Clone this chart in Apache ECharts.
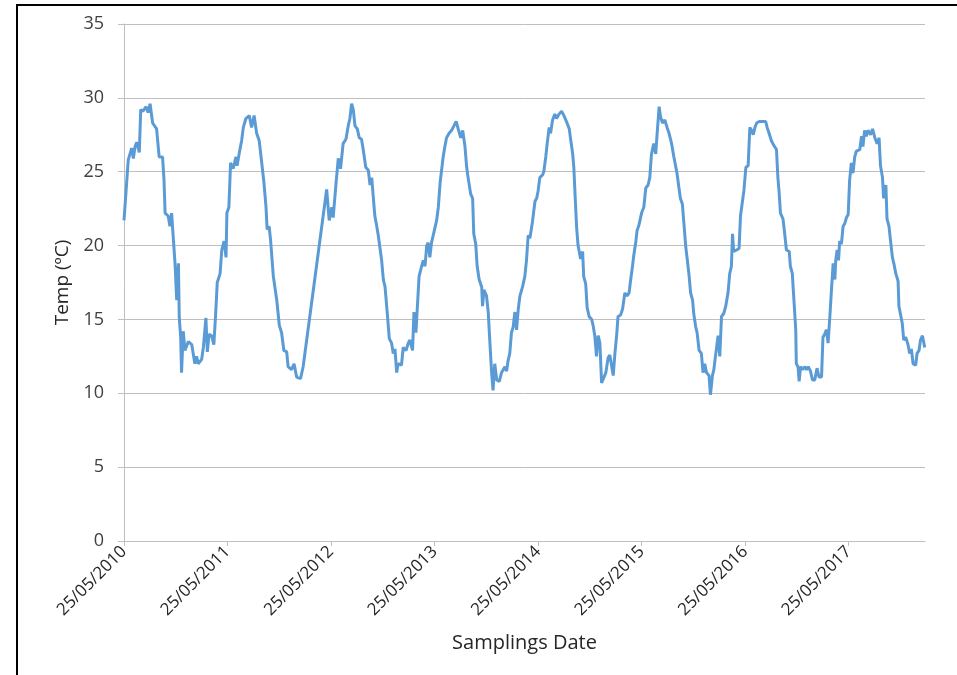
<!DOCTYPE html>
<html>
<head>
<meta charset="utf-8">
<script src="https://cdn.jsdelivr.net/npm/echarts@6/dist/echarts.min.js"></script>
<style>
html,body{margin:0;padding:0;background:#fff;}
#chart{width:957px;height:675px;}
</style>
</head>
<body>
<div id="chart"></div>
<script>
// Days since the first sampling (25/05/2010)
var sampleDay = [0,15,21,27,33,39,45,50,54,59,67,78,85,92,101,115,124,136,141,145,156,162,168,174,180,186,192,195,200,203,209,215,227,239,244,250,256,262,274,280,289,294,300,309,317,324,329,339,345,353,360,363,370,376,385,395,399,407,415,421,430,442,450,459,468,477,486,494,501,505,512,517,527,539,548,556,564,574,579,591,600,609,623,632,715,724,733,738,748,756,764,773,783,791,797,803,809,815,823,830,838,844,853,862,868,874,879,885,891,897,903,909,915,921,929,936,944,950,956,962,967,979,985,995,1003,1009,1018,1023,1030,1034,1041,1050,1056,1062,1068,1073,1079,1085,1091,1097,1103,1109,1115,1126,1132,1138,1147,1156,1164,1172,1179,1188,1195,1203,1209,1214,1223,1230,1234,1241,1246,1253,1262,1265,1270,1279,1285,1291,1297,1302,1308,1315,1324,1332,1338,1344,1350,1355,1361,1367,1373,1379,1385,1391,1397,1406,1414,1420,1426,1432,1441,1450,1456,1461,1467,1477,1481,1488,1493,1500,1505,1512,1520,1526,1535,1544,1552,1561,1571,1575,1583,1587,1592,1597,1602,1611,1618,1622,1629,1634,1641,1650,1655,1661,1667,1673,1679,1685,1690,1700,1708,1714,1720,1726,1732,1738,1743,1752,1759,1767,1775,1782,1787,1794,1799,1806,1810,1817,1826,1834,1841,1849,1855,1861,1869,1876,1881,1888,1893,1900,1908,1916,1923,1932,1940,1947,1951,1958,1963,1970,1975,1982,1987,1994,1999,2006,2010,2017,2022,2029,2037,2043,2049,2055,2064,2069,2076,2081,2088,2096,2102,2108,2116,2123,2131,2137,2143,2147,2151,2161,2170,2175,2182,2187,2194,2202,2208,2214,2220,2226,2232,2241,2249,2255,2264,2269,2276,2284,2292,2302,2307,2311,2316,2325,2331,2337,2347,2351,2358,2361,2366,2370,2372,2378,2382,2387,2394,2402,2408,2414,2422,2429,2437,2445,2452,2461,2466,2472,2478,2484,2490,2496,2502,2508,2511,2516,2521,2525,2531,2537,2543,2549,2555,2560,2566,2572,2578,2584,2596,2602,2607,2613,2619,2625,2634,2641,2649,2657,2664,2669,2676,2680,2688,2692,2699,2704,2711,2716,2723,2731,2734,2739,2746,2751,2758,2766,2772,2778,2784,2793,2798,2805,2810,2817,2825];

// Temperature (ºC)
var tempC = [21.7,25.8,25.9,26.6,25.9,26.7,27.0,27.1,26.3,29.2,29.1,29.4,29.0,29.6,28.3,27.9,26.0,26.0,24.5,22.2,22.0,21.3,22.2,22.2,18.8,16.3,18.8,15.1,13.8,11.4,14.2,12.9,13.5,13.3,13.3,12.0,12.5,12.0,12.3,13.1,15.1,12.8,14.0,13.9,13.3,15.6,17.5,18.1,19.7,20.3,19.2,22.2,22.6,25.6,25.2,26.0,25.4,26.3,27.1,28.0,28.6,28.8,28.0,28.8,27.6,27.1,25.6,24.2,22.6,21.1,21.3,20.4,17.9,16.3,14.6,14.1,12.9,12.8,11.8,11.6,12.0,11.1,11.0,11.8,23.8,21.7,22.6,21.9,24.2,25.9,25.2,26.9,27.2,28.1,28.6,29.6,29.2,28.1,27.9,27.3,27.2,26.5,25.3,25.1,24.1,24.6,23.4,22.0,21.4,20.7,20.7,19.0,17.7,17.2,15.4,13.7,13.4,12.7,13.0,11.4,12.0,11.9,13.1,12.9,13.4,13.6,12.9,15.5,14.1,15.5,17.9,18.6,19.0,18.6,20.0,20.2,19.2,20.2,20.3,21.2,21.7,22.6,24.2,26.0,26.7,27.3,27.6,27.8,28.1,28.4,27.9,27.3,27.8,26.7,25.3,24.6,23.5,23.2,20.8,20.1,18.6,17.7,17.2,15.9,17.0,16.6,15.5,13.4,11.4,10.2,12.0,10.9,10.8,11.4,11.6,11.8,11.5,12.2,12.7,14.1,14.5,15.5,14.3,15.7,16.6,17.2,17.9,19.0,20.7,20.5,21.6,23.0,23.2,23.7,24.6,24.8,25.0,26.0,26.9,28.0,27.6,28.5,28.9,28.6,28.9,29.1,28.8,28.4,27.9,27.3,26.2,25.3,23.2,21.2,20.0,19.1,19.6,17.9,17.4,15.8,15.2,15.0,14.6,13.9,12.5,13.9,13.4,10.7,10.6,11.4,12.4,12.6,12.5,11.2,12.7,13.9,15.2,15.3,15.7,16.8,16.6,16.8,17.6,18.6,19.4,20.3,21.0,21.4,22.2,22.6,23.9,24.1,24.6,26.2,26.9,26.2,27.6,29.4,28.7,28.3,28.5,28.0,27.6,26.9,26.0,25.3,24.9,23.9,23.2,22.8,21.6,19.9,19.1,17.9,16.8,16.3,15.4,14.5,14.1,12.9,12.7,11.4,12.0,11.4,11.2,9.9,11.2,11.6,12.7,13.9,12.5,15.2,15.4,15.9,16.8,18.1,18.6,20.8,19.6,19.7,19.8,22.0,23.0,23.7,25.3,25.4,28.0,27.8,27.5,28.0,28.3,28.4,28.4,28.3,28.4,28.0,27.6,27.1,26.8,26.5,24.6,23.7,22.2,21.8,20.8,19.7,19.6,18.6,18.1,17.1,17.0,14.3,12.0,11.8,10.8,11.8,11.6,11.8,11.6,11.8,11.5,10.9,10.9,11.7,11.1,11.1,13.8,14.0,14.3,13.4,15.1,17.0,18.8,17.7,19.0,19.7,19.0,20.3,20.1,21.3,21.5,21.9,22.1,24.4,25.6,24.9,26.0,26.4,26.5,27.4,26.7,27.8,27.4,27.8,27.5,27.9,27.3,26.9,27.3,25.4,24.6,23.2,24.1,21.8,21.3,20.4,19.2,18.8,18.1,17.6,15.9,15.4,14.7,13.6,13.8,13.3,12.7,13.0,12.0,11.9,12.7,12.9,13.6,13.9,13.1];

var startDay = 25, startMonth = '05', startYear = 2010;
var yearDays = 365.25;
var lastDay = 2826;
var yTicks = [0, 5, 10, 15, 20, 25, 30, 35];

var seriesData = sampleDay.map(function (d, i) { return [d, tempC[i]]; });

var chart = echarts.init(document.getElementById('chart'), null, {renderer: 'canvas'});
var font = '"Open Sans", "Noto Sans", sans-serif';
chart.setOption({
  animation: false,
  backgroundColor: '#ffffff',
  graphic: [
    {type: 'line', shape: {x1: 16, y1: 5, x2: 957, y2: 5}, style: {stroke: '#000', lineWidth: 2}},
    {type: 'line', shape: {x1: 17, y1: 5, x2: 17, y2: 675}, style: {stroke: '#000', lineWidth: 2}}
  ],
  grid: {left: 124, right: 32, top: 24, bottom: 134, containLabel: false},
  xAxis: {
    type: 'value',
    min: 0,
    max: lastDay,
    interval: yearDays,
    name: 'Samplings Date',
    nameLocation: 'middle',
    nameGap: 92,
    nameTextStyle: {fontFamily: font, fontSize: 20, color: '#262626'},
    axisLine: {show: true, lineStyle: {color: '#bfbfbf', width: 1}},
    axisTick: {show: true, length: 5, lineStyle: {color: '#bfbfbf'}},
    splitLine: {show: false},
    axisLabel: {
      rotate: 45,
      margin: 8,
      fontFamily: font,
      fontSize: 17,
      color: '#262626',
      showMaxLabel: false,
      formatter: function (v) {
        return startDay + '/' + startMonth + '/' + (startYear + Math.round(v / yearDays));
      }
    }
  },
  yAxis: {
    type: 'value',
    min: yTicks[0],
    max: yTicks[yTicks.length - 1],
    interval: 5,
    name: 'Temp (ºC)',
    nameLocation: 'middle',
    nameGap: 52,
    nameRotate: 90,
    nameTextStyle: {fontFamily: font, fontSize: 19, color: '#262626'},
    axisLine: {show: true, lineStyle: {color: '#bfbfbf', width: 1}},
    axisTick: {show: true, length: 6, lineStyle: {color: '#bfbfbf'}},
    splitLine: {show: true, lineStyle: {color: '#bfbfbf', width: 1}},
    axisLabel: {margin: 20, fontFamily: font, fontSize: 18, color: '#404040'}
  },
  series: [{
    type: 'line',
    data: seriesData,
    showSymbol: false,
    symbol: 'none',
    lineStyle: {color: '#5b9bd5', width: 3},
    clip: true
  }]
});
</script>
</body>
</html>
